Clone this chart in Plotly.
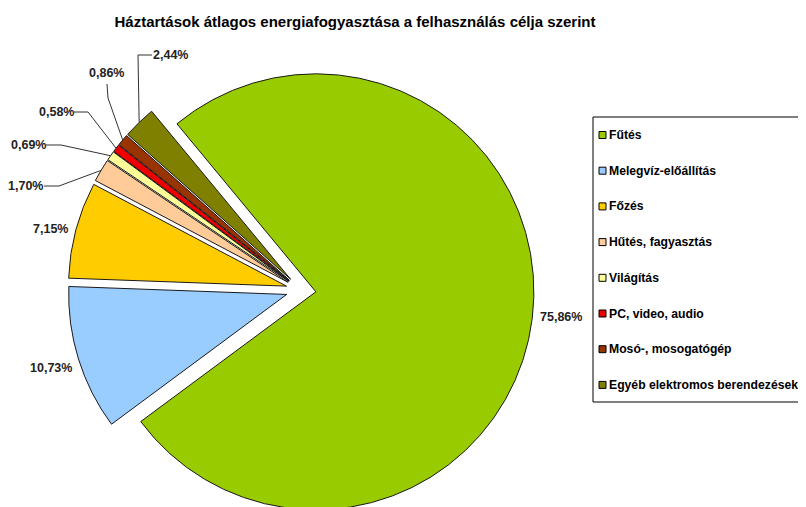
import math
import plotly.graph_objects as go

# ---------------- data ----------------
categories = ["Fűtés", "Melegvíz-előállítás", "Főzés", "Hűtés, fagyasztás",
              "Világítás", "PC, video, audio", "Mosó-, mosogatógép",
              "Egyéb elektromos berendezések"]
shares = [75.86, 10.73, 7.15, 1.70, 0.69, 0.58, 0.86, 2.44]
colors = ["#99CC00", "#99CCFF", "#FFCC00", "#FFCC99",
          "#FFFF99", "#EE0000", "#993300", "#808000"]
title_text = "Háztartások átlagos energiafogyasztása a felhasználás célja szerint"

# ---------------- layout constants (screen pixels) ----------------
OFF = 8                  # page body margin
W, H = 798, 520          # taller than the window: bottom of the pie is cropped like the original
CX, CY = 301, 290        # pie centre (before explosion), screen px
R = 218                  # pie radius
PULL = 0.0688            # explosion as fraction of radius
ROT = 320.4              # start angle of first slice (deg clockwise from 12 o'clock)
FONT = "Liberation Sans, Arial, sans-serif"

# label positions (text centre, screen px) and leader style for each slice
label_pos = [(561, 317), (51, 368), (50, 229), (25, 186),
             (28, 145), (56, 112), (106, 73), (170, 55)]
# leader: None, or (anchor point on label, elbow point)
leaders = [None, None, None,
           ((44, 186), (59, 186)),
           ((46, 145), (61, 145)),
           ((74, 112), (88, 112)),
           ((107, 84), (108, 98)),
           ((152, 55), (138, 55))]


def px(x):
    return (x - OFF) / W


def py(y):
    return 1 - (y - OFF) / H


half = R * (1 + PULL)
fig = go.Figure(go.Pie(
    labels=categories,
    values=shares,
    sort=False,
    direction="clockwise",
    rotation=ROT,
    pull=[PULL] * len(shares),
    marker=dict(colors=colors, line=dict(color="#1a1a1a", width=1)),
    textinfo="none",
    hoverinfo="label+percent",
    domain=dict(x=[px(CX - half), px(CX + half)],
                y=[py(CY + half), py(CY - half)]),
    showlegend=False,
))

# slice geometry -> leader line targets (mid-arc points)
total = sum(shares)
annotations = []
shapes = []
acc = 0.0
for i, v in enumerate(shares):
    a0 = ROT + acc / total * 360
    acc += v
    a1 = ROT + acc / total * 360
    mid = math.radians((a0 + a1) / 2)
    ox = CX + PULL * R * math.sin(mid)
    oy = CY - PULL * R * math.cos(mid)
    tx = ox + R * math.sin(mid)
    ty = oy - R * math.cos(mid)
    txt = f"{v:.2f}".replace(".", ",") + "%"
    lx, ly = label_pos[i]
    annotations.append(dict(x=px(lx), y=py(ly), xref="paper", yref="paper",
                            text=txt, showarrow=False, xanchor="center", yanchor="middle",
                            font=dict(family=FONT, size=12.5, color="#222222", weight="bold")))
    if leaders[i] is not None:
        (x0, y0), (x1, y1) = leaders[i]
        path = f"M {px(x0)} {py(y0)} L {px(x1)} {py(y1)} L {px(tx)} {py(ty)}"
        shapes.append(dict(type="path", path=path, xref="paper", yref="paper",
                           line=dict(color="#333333", width=1)))

# custom legend (box running off the right edge, swatches, labels)
LEG_L, LEG_T, LEG_B, LEG_R = 593, 117, 402, 860
LEG_Y0, LEG_DY = 135, 35.7
shapes.append(dict(type="path", xref="paper", yref="paper",
                   path=(f"M {px(LEG_R)} {py(LEG_T)} L {px(LEG_L)} {py(LEG_T)} "
                         f"L {px(LEG_L)} {py(LEG_B)} L {px(LEG_R)} {py(LEG_B)}"),
                   line=dict(color="#000000", width=1)))
for i, (name, col) in enumerate(zip(categories, colors)):
    yc = LEG_Y0 + i * LEG_DY
    shapes.append(dict(type="rect", xref="paper", yref="paper",
                       x0=px(599), x1=px(606), y0=py(yc + 3.5), y1=py(yc - 3.5),
                       line=dict(color="#000000", width=1), fillcolor=col))
    annotations.append(dict(x=px(607), y=py(yc), xref="paper", yref="paper",
                            text=name, showarrow=False, xanchor="left", yanchor="middle",
                            font=dict(family=FONT, size=12.2, color="#000000", weight="bold")))

fig.update_layout(
    width=W, height=H,
    margin=dict(l=0, r=0, t=0, b=0),
    paper_bgcolor="white", plot_bgcolor="white",
    title=dict(text=title_text, x=px(355), xanchor="center", y=py(21.5), yanchor="middle",
               font=dict(family=FONT, size=15, color="#000000", weight="bold")),
    annotations=annotations,
    shapes=shapes,
)

fig.write_html("out.html")
